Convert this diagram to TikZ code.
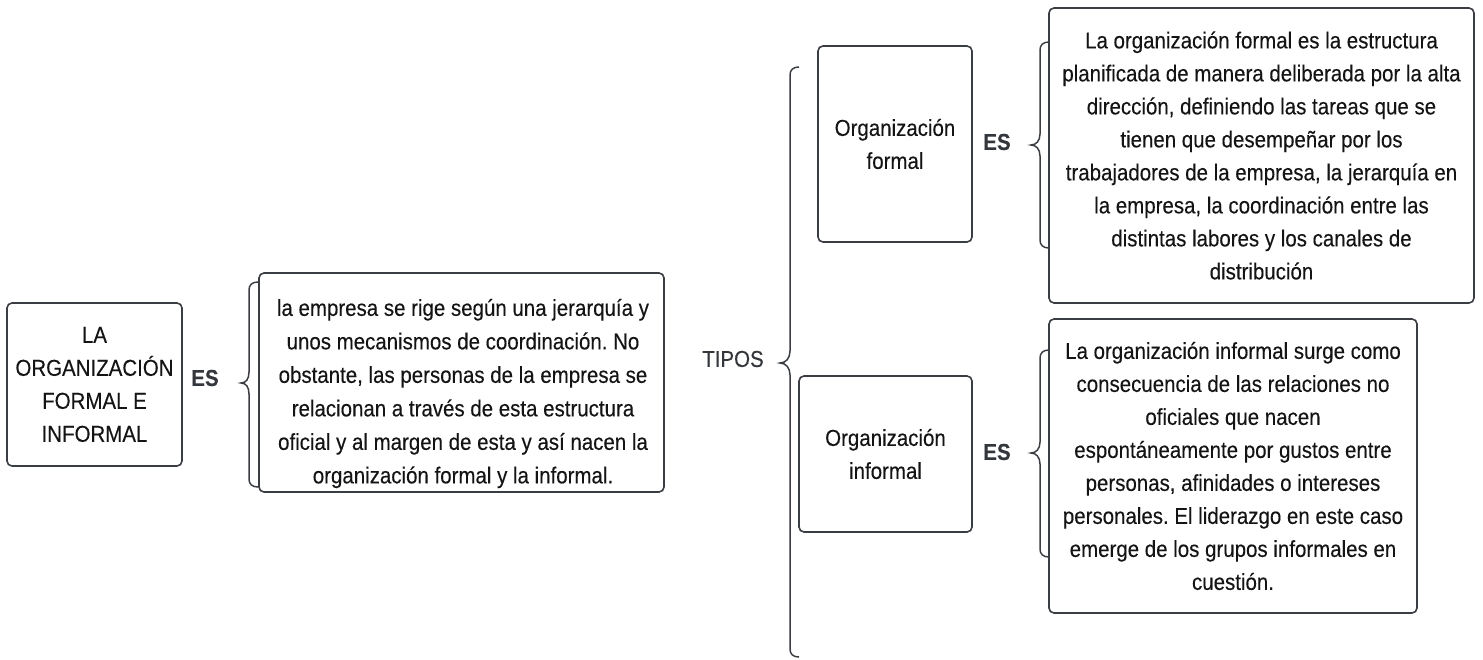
\documentclass[tikz,border=0pt]{standalone}
\usepackage{fontspec}
\setmainfont[FakeStretch=0.89,FakeBold=0.25]{Liberation Sans}
\frenchspacing
\definecolor{strokegray}{HTML}{3A3D42}
\definecolor{inkc}{HTML}{141414}
\definecolor{esc}{HTML}{33363B}
\begin{document}
\begin{tikzpicture}[x=1pt,y=-1pt,
  box/.style={draw=strokegray, line width=1.6pt, rounded corners=5pt, inner sep=0pt, align=center, text=inkc, font=\fontsize{23}{33}\selectfont},
  txt/.style={inner sep=0pt, align=center, text=inkc, font=\fontsize{23}{33.5}\selectfont},
  eslabel/.style={inner sep=0pt, text=esc, font=\fontsize{23}{28}\selectfont\bfseries},
  brace/.style={draw=strokegray, line width=1.5pt, line join=miter}]
\useasboundingbox (0,0) rectangle (1483,659);

% main box
\node[box, minimum width=175, minimum height=163] (main) at (94.5,384.5)
  {LA\\ORGANIZACIÓN\\FORMAL E\\INFORMAL};
\node[eslabel] (es1) at (205,378) {ES};

% description box
\node[box, minimum width=405, minimum height=219] (desc) at (461.5,382.5) {};
\node[txt] (desctxt) at (463,393.5)
  {la empresa se rige según una jerarquía y\\
   unos mecanismos de coordinación. No\\
   obstante, las personas de la empresa se\\
   relacionan a través de esta estructura\\
   oficial y al margen de esta y así nacen la\\
   organización formal y la informal.};

\node[inner sep=0pt, text=esc, font=\fontsize{23}{28}\selectfont] (tipos) at (733,359) {TIPOS};

% formal
\node[box, minimum width=154, minimum height=196] (formal) at (895,144)
  {Organización\\formal};
\node[eslabel] (esf) at (997,142) {ES};
\node[box, minimum width=425, minimum height=295] (formaldef) at (1261.5,155.5)
  {La organización formal es la estructura\\
   planificada de manera deliberada por la alta\\
   dirección, definiendo las tareas que se\\
   tienen que desempeñar por los\\
   trabajadores de la empresa, la jerarquía en\\
   la empresa, la coordinación entre las\\
   distintas labores y los canales de\\
   distribución};

% informal
\node[box, minimum width=173, minimum height=156] (informal) at (885.5,454)
  {Organización\\informal};
\node[eslabel] (esi) at (997,452) {ES};
\node[box, minimum width=368, minimum height=294] (informaldef) at (1233,466)
  {La organización informal surge como\\
   consecuencia de las relaciones no\\
   oficiales que nacen\\
   espontáneamente por gustos entre\\
   personas, afinidades o intereses\\
   personales. El liderazgo en este caso\\
   emerge de los grupos informales en\\
   cuestión.};

% braces
\draw[brace] (258,282) .. controls (252,282) and (249,285) .. (249,290) -- (249,372)
  .. controls (249,379) and (246,383) .. (241,383)
  .. controls (246,383) and (249,387) .. (249,394)
  -- (249,479) .. controls (249,484) and (252,487) .. (258,487);
\draw[brace] (799,67) .. controls (793,67) and (790,70) .. (790,75) -- (790,351)
  .. controls (790,358) and (786,363) .. (780,363)
  .. controls (786,363) and (790,368) .. (790,375)
  -- (790,649) .. controls (790,654) and (793,657) .. (799,657);
\draw[brace] (1049,42) .. controls (1043,42) and (1040,45) .. (1040,50) -- (1040,134)
  .. controls (1040,141) and (1036,145) .. (1031,145)
  .. controls (1036,145) and (1040,149) .. (1040,156)
  -- (1040,240) .. controls (1040,245) and (1043,248) .. (1049,248);
\draw[brace] (1049,350) .. controls (1043,350) and (1040,353) .. (1040,358) -- (1040,442)
  .. controls (1040,449) and (1036,453) .. (1031,453)
  .. controls (1036,453) and (1040,457) .. (1040,464)
  -- (1040,549) .. controls (1040,554) and (1043,557) .. (1049,557);
\end{tikzpicture}
\end{document}
